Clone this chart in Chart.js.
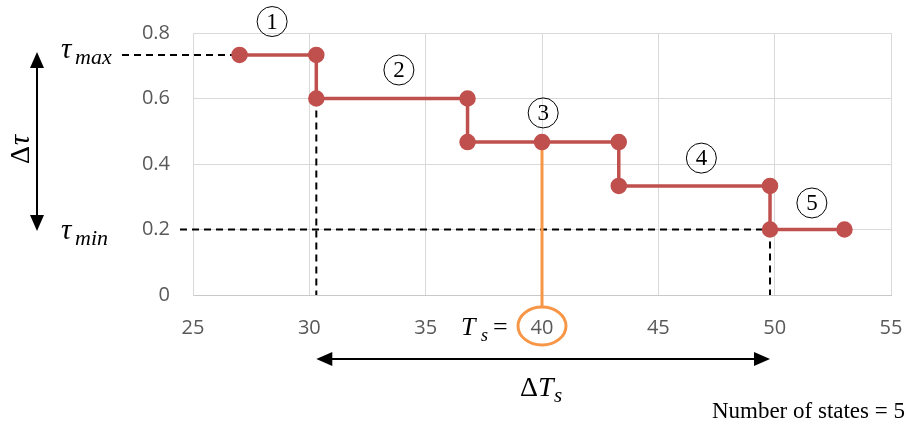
<!DOCTYPE html>
<html>
<head>
<meta charset="utf-8">
<script src="https://cdn.jsdelivr.net/npm/chart.js@4.4.1/dist/chart.umd.min.js"></script>
<style>
  body { margin: 0; background: #fff; }
  #wrap { width: 906px; height: 424px; position: relative; }
</style>
</head>
<body>
<div id="wrap"><canvas id="myChart"></canvas></div>
<script>
// step curve of the states (x = T, y = tau)
const stateX = [27, 30.3, 30.3, 36.8, 36.8, 40, 43.3, 43.3, 49.8, 49.8, 53];
const stateY = [0.733, 0.733, 0.6, 0.6, 0.467, 0.467, 0.467, 0.333, 0.333, 0.2, 0.2];
const xTicks = [25, 30, 35, 40, 45, 50, 55];
const yTicks = ["0", "0.2", "0.4", "0.6", "0.8"];
const stateNames = ["1", "2", "3", "4", "5"];
const tauMax = 0.733;
const tauMin = 0.2;
const tsValue = 40;
const tsStart = 30.3;
const tsEnd = 49.8;

const points = stateX.map((x, i) => ({ x: x, y: stateY[i] }));

function arrowHead(ctx, x, y, dir) {
  ctx.beginPath();
  if (dir === "up") { ctx.moveTo(x, y); ctx.lineTo(x - 7, y + 16); ctx.lineTo(x + 7, y + 16); }
  if (dir === "down") { ctx.moveTo(x, y); ctx.lineTo(x - 7, y - 16); ctx.lineTo(x + 7, y - 16); }
  if (dir === "left") { ctx.moveTo(x, y); ctx.lineTo(x + 16, y - 7); ctx.lineTo(x + 16, y + 7); }
  if (dir === "right") { ctx.moveTo(x, y); ctx.lineTo(x - 16, y - 7); ctx.lineTo(x - 16, y + 7); }
  ctx.closePath();
  ctx.fill();
}

const guides = {
  id: "guides",
  beforeDatasetsDraw(chart) {
    const ctx = chart.ctx;
    const xs = chart.scales.x;
    const ys = chart.scales.y;
    const y0 = ys.getPixelForValue(0);
    ctx.save();
    ctx.strokeStyle = "#000";
    ctx.lineWidth = 2;
    ctx.setLineDash([7, 5]);
    // tau max
    ctx.beginPath();
    ctx.moveTo(122, ys.getPixelForValue(tauMax));
    ctx.lineTo(xs.getPixelForValue(stateX[0]), ys.getPixelForValue(tauMax));
    ctx.stroke();
    // tau min
    ctx.beginPath();
    ctx.moveTo(180, ys.getPixelForValue(tauMin));
    ctx.lineTo(xs.getPixelForValue(tsEnd), ys.getPixelForValue(tauMin));
    ctx.stroke();
    // verticals
    ctx.beginPath();
    ctx.moveTo(xs.getPixelForValue(tsStart), ys.getPixelForValue(0.6));
    ctx.lineTo(xs.getPixelForValue(tsStart), y0);
    ctx.moveTo(xs.getPixelForValue(tsEnd), ys.getPixelForValue(tauMin));
    ctx.lineTo(xs.getPixelForValue(tsEnd), y0);
    ctx.stroke();
    ctx.setLineDash([]);
    // orange selected temperature
    const ox = xs.getPixelForValue(tsValue);
    ctx.strokeStyle = "#F79646";
    ctx.lineWidth = 3;
    ctx.beginPath();
    ctx.moveTo(ox, ys.getPixelForValue(0.467));
    ctx.lineTo(ox, 307);
    ctx.stroke();
    ctx.beginPath();
    ctx.ellipse(ox, 326, 24, 19, 0, 0, Math.PI * 2);
    ctx.stroke();
    ctx.restore();
  },
  afterDraw(chart) {
    const ctx = chart.ctx;
    const xs = chart.scales.x;
    const ys = chart.scales.y;
    ctx.save();
    ctx.fillStyle = "#000";
    ctx.strokeStyle = "#000";

    // circled state numbers
    const spots = [[28.4, 0.835], [33.85, 0.687], [40.05, 0.556], [46.85, 0.418], [51.6, 0.281]];
    ctx.lineWidth = 1;
    ctx.textAlign = "center";
    ctx.textBaseline = "middle";
    ctx.font = "23px 'Liberation Serif'";
    stateNames.forEach((name, i) => {
      const cx = xs.getPixelForValue(spots[i][0]);
      const cy = ys.getPixelForValue(spots[i][1]);
      ctx.beginPath();
      ctx.arc(cx, cy, 15, 0, Math.PI * 2);
      ctx.stroke();
      ctx.fillText(name, cx, cy + 1);
    });

    // tau labels
    ctx.textAlign = "left";
    ctx.textBaseline = "alphabetic";
    ctx.font = "italic 29px 'Liberation Serif'";
    ctx.fillText("τ", 61, 58);
    ctx.fillText("τ", 61, 239);
    ctx.font = "italic 22px 'Liberation Serif'";
    ctx.fillText("max", 75, 64);
    ctx.fillText("min", 75, 245);

    // delta tau arrow
    ctx.lineWidth = 2;
    ctx.beginPath();
    ctx.moveTo(37, 60);
    ctx.lineTo(37, 224);
    ctx.stroke();
    arrowHead(ctx, 37, 52, "up");
    arrowHead(ctx, 37, 231, "down");
    ctx.save();
    ctx.translate(29, 149);
    ctx.rotate(-Math.PI / 2);
    ctx.textAlign = "center";
    ctx.font = "28px 'Liberation Serif'";
    ctx.fillText("Δ", -6, 0);
    ctx.font = "italic 29px 'Liberation Serif'";
    ctx.fillText("τ", 9, 0);
    ctx.restore();

    // Ts label
    ctx.font = "italic 26px 'Liberation Serif'";
    ctx.fillText("T", 461, 335);
    ctx.font = "italic 18px 'Liberation Serif'";
    ctx.fillText("s", 481, 341);
    ctx.font = "26px 'Liberation Serif'";
    ctx.fillText("=", 493, 335);

    // delta Ts arrow
    const xa = xs.getPixelForValue(tsStart);
    const xb = xs.getPixelForValue(tsEnd);
    ctx.lineWidth = 2;
    ctx.beginPath();
    ctx.moveTo(xa + 8, 359);
    ctx.lineTo(xb - 8, 359);
    ctx.stroke();
    arrowHead(ctx, xa, 359, "left");
    arrowHead(ctx, xb, 359, "right");
    ctx.font = "28px 'Liberation Serif'";
    ctx.fillText("Δ", 520, 396);
    ctx.font = "italic 28px 'Liberation Serif'";
    ctx.fillText("T", 538, 396);
    ctx.font = "italic 21px 'Liberation Serif'";
    ctx.fillText("s", 554, 402);

    ctx.textAlign = "right";
    ctx.font = "23px 'Liberation Serif'";
    ctx.fillText("Number of states = 5", 905, 418);
    ctx.restore();
  }
};

new Chart(document.getElementById("myChart").getContext("2d"), {
  type: "scatter",
  data: {
    datasets: [
      {
        data: points,
        showLine: true,
        borderColor: "#C0504D",
        backgroundColor: "#C0504D",
        borderWidth: 3.5,
        pointRadius: 6.5,
        pointHoverRadius: 6.5,
      },
    ],
  },
  options: {
    responsive: true,
    maintainAspectRatio: false,
    animation: false,
    events: [],
    layout: {
      padding: { left: 100, right: 15, top: 33, bottom: 0 },
    },
    plugins: {
      legend: { display: false },
      tooltip: { enabled: false },
    },
    scales: {
      x: {
        type: "linear",
        min: 25,
        max: 55,
        afterBuildTicks: (scale) => {
          scale.ticks = xTicks.map((v) => ({ value: v }));
        },
        afterFit: (scale) => {
          scale.height = 129;
          scale.paddingLeft = 0;
          scale.paddingRight = 0;
        },
        grid: {
          color: "#d9d9d9",
          drawTicks: false,
        },
        border: { color: "#c8c8c8" },
        ticks: {
          padding: 21,
          color: "#595959",
          font: { family: "'Open Sans'", size: 20 },
          callback: (v) => String(v),
        },
      },
      y: {
        min: 0,
        max: 0.8,
        afterBuildTicks: (scale) => {
          scale.ticks = yTicks.map((v) => ({ value: Number(v) }));
        },
        afterFit: (scale) => {
          scale.width = 93;
          scale.paddingTop = 0;
          scale.paddingBottom = 0;
        },
        grid: {
          color: "#d9d9d9",
          drawTicks: false,
        },
        border: { color: "#d9d9d9" },
        ticks: {
          padding: 23,
          color: "#595959",
          font: { family: "'Open Sans'", size: 20 },
          callback: (v, i) => yTicks[i],
        },
      },
    },
  },
  plugins: [guides],
});
</script>
</body>
</html>
